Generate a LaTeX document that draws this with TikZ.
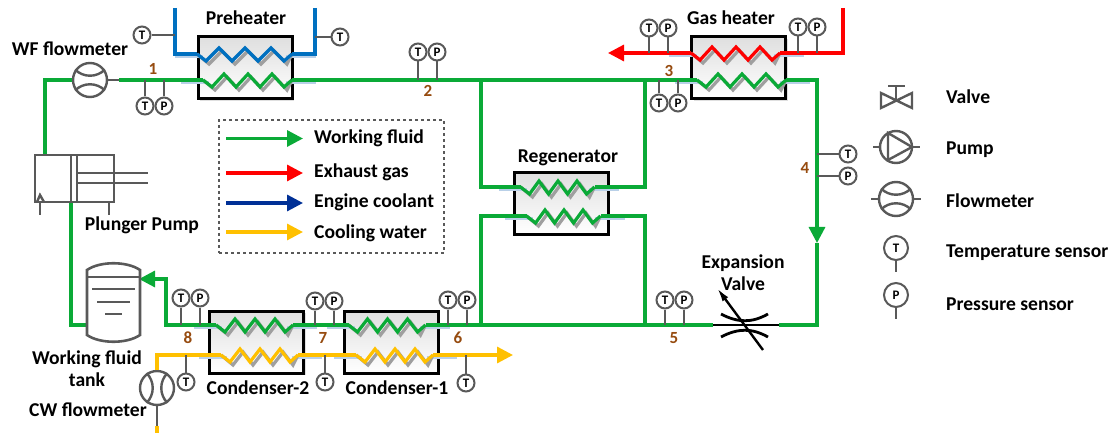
\documentclass[tikz,border=0pt]{standalone}
\usepackage{fontspec}
\setmainfont{Carlito}
\usepackage{xcolor}
\usepackage{tikz}
\usetikzlibrary{arrows.meta, positioning, shadows, calc}

\definecolor{wfgreen}{RGB}{10,170,55}
\definecolor{exred}{RGB}{255,0,0}
\definecolor{ecblue}{RGB}{0,112,192}
\definecolor{ecdark}{RGB}{0,48,150}
\definecolor{cwyellow}{RGB}{255,192,0}
\definecolor{symgray}{RGB}{89,89,89}
\definecolor{stubblue}{RGB}{185,208,232}
\definecolor{numbrown}{RGB}{150,75,15}

\tikzset{
	hxbox/.style={draw=black, line width=3pt, minimum width=94pt, minimum height=62pt, inner sep=0pt, top color=gray!25, bottom color=white, drop shadow={shadow xshift=2pt, shadow yshift=-2pt, opacity=.25}},
	pipe/.style={line width=3.2pt},
	flow/.style={pipe, -{Triangle[length=16pt,width=16pt]}},
	symb/.style={draw=symgray, line width=2.4pt},
	stem/.style={draw=symgray, line width=2pt},
	sensor/.style={circle, draw=symgray, line width=2pt, fill=white, minimum size=17pt, inner sep=0pt, font=\fontsize{13}{13}\selectfont\bfseries},
	bigsensor/.style={sensor, minimum size=24pt},
	meter/.style={circle, draw=symgray, line width=2.4pt, fill=white, minimum size=34pt, inner sep=0pt},
	lbl/.style={font=\fontsize{19.6}{20}\selectfont\bfseries, align=center, inner sep=0pt},
	legtext/.style={lbl, anchor=west},
	num/.style={font=\fontsize{17}{17}\selectfont\bfseries, text=numbrown, inner sep=0pt}
}

% coil inside a heat exchanger: name, colour, x, y, half pitch
\newcommand{\hxcoil}[5]{
	\coordinate (#1l) at ({#3-3*#5-9},#4);
	\coordinate (#1r) at ({#3+3*#5+8},#4);
	\draw[stubblue, pipe] ($(#1l)+(-22,2.5)$) -- ($(#1l)+(6,2.5)$);
	\draw[stubblue, pipe] ($(#1r)+(-6,2.5)$) -- ($(#1r)+(24,2.5)$);
	\foreach \off/\col in {3/gray!75, 0/#2} {
		\draw[\col, pipe, shift={(\off,\off)}] (#1l) -- ({#3-3*#5},#4+7) -- ({#3-2*#5},#4-6) -- ({#3-#5},#4+7) -- (#3,#4-6) -- ({#3+#5},#4+7) -- ({#3+2*#5},#4-6) -- ({#3+3*#5},#4+7) -- (#1r);
	}
}

\begin{document}
\begin{tikzpicture}[x=1pt, y=-1pt]
	\useasboundingbox (0,0) rectangle (1115,435);

	% Define the heat exchangers
	\node[hxbox] (preheater) at (245,68) {};
	\node[hxbox] (gasheater) at (738.5,68) {};
	\node[hxbox] (regen) at (561,203.5) {};
	\node[hxbox] (cond2) at (256.5,342) {};
	\node[hxbox] (cond1) at (391,342) {};

	% Define the coils
	\hxcoil{pretop}{ecblue}{245}{54}{13}
	\hxcoil{prewf}{wfgreen}{248}{80}{12}
	\hxcoil{gastop}{exred}{736}{53}{12}
	\hxcoil{gaswf}{wfgreen}{742}{80}{12}
	\hxcoil{regtop}{wfgreen}{558}{187}{9.5}
	\hxcoil{regbot}{wfgreen}{564}{216}{9.5}
	\hxcoil{ctwo}{wfgreen}{255}{325}{10}
	\hxcoil{ctwocw}{cwyellow}{260}{355}{10}
	\hxcoil{cone}{wfgreen}{387.5}{325}{10}
	\hxcoil{conecw}{cwyellow}{395}{355}{10}

	% Define the pipe corners
	\coordinate (blueA) at (175,8);
	\coordinate (blueB) at (315,8);
	\coordinate (redin) at (843,8);
	\coordinate (redout) at (608,53);
	\coordinate (pumptop) at (45,155);
	\coordinate (pumpbot) at (71,202);
	\coordinate (tankbot) at (87,325);
	\coordinate (tanktip) at (139,279);
	\coordinate (tankpipe) at (166,279);
	\coordinate (wfright) at (119,80);
	\coordinate (gasright) at (817,80);
	\coordinate (arrowtip) at (817,243);
	\coordinate (valveright) at (817,325);
	\coordinate (junA) at (481,80);
	\coordinate (junB) at (645,80);
	\coordinate (junC) at (481,325);
	\coordinate (junD) at (645,325);
	\coordinate (cwtip) at (513,355);
	\coordinate (cwend) at (157,433);
	\coordinate (cwlow) at (157,426);

	% Define the meters
	\node[meter] (wfmeter) at (90,80) {};
	\node[meter] (cwmeter) at (157,388) {};
	\node[lbl] (valvel) at (743,273) {Expansion\\[2pt]Valve};
	\coordinate (valveA) at (713,325);
	\coordinate (valveB) at (779,325);

	% Define the working fluid connections
	\draw[wfgreen, pipe] (wfmeter.west) -| (pumptop);
	\draw[wfgreen, pipe] (wfright) -- (prewfl);
	\draw[wfgreen, pipe] (prewfr) -- (gaswfl);
	\draw[wfgreen, flow] (gaswfr) -- (gasright) -- (arrowtip);
	\draw[wfgreen, pipe] (arrowtip) -- (valveright) -- (valveB);
	\draw[wfgreen, pipe] (junA) |- (regtopl);
	\draw[wfgreen, pipe] (junB) |- (regtopr);
	\draw[wfgreen, pipe] (junC) |- (regbotl);
	\draw[wfgreen, pipe] (junD) |- (regbotr);
	\draw[wfgreen, pipe] (valveA) -- (coner);
	\draw[wfgreen, pipe] (conel) -- (ctwor);
	\draw[wfgreen, flow] (ctwol) -| (tankpipe) -- (tanktip);
	\draw[wfgreen, pipe] (pumpbot) |- (tankbot);

	% Define the other fluids
	\draw[ecblue, pipe] (blueA) |- (pretopl);
	\draw[ecblue, pipe] (blueB) |- (pretopr);
	\draw[exred, pipe] (redin) |- (gastopr);
	\draw[exred, flow] (gastopl) -- (redout);
	\draw[cwyellow, pipe] (cwmeter.north) |- (ctwocwl);
	\draw[cwyellow, pipe] (ctwocwr) -- (conecwl);
	\draw[cwyellow, flow] (conecwr) -- (cwtip);
	\draw[cwyellow, pipe] (cwlow) -- (cwend);

	% Flowmeter details
	\draw[symb] (wfmeter.east) -- (wfright);
	\draw[symb] (wfmeter.145) to[bend right=45] (wfmeter.35);
	\draw[symb] (wfmeter.215) to[bend left=45] (wfmeter.325);
	\draw[symb] (cwmeter.south) -- (cwlow);
	\draw[symb] (cwmeter.125) to[bend left=45] (cwmeter.235);
	\draw[symb] (cwmeter.55) to[bend right=45] (cwmeter.305);

	% Expansion valve
	\draw[black, line width=2.8pt] (valveA) -- (valveB);
	\draw[black, line width=2.8pt] (721,314) .. controls (738,323) and (752,323) .. (768,314);
	\draw[black, line width=2.8pt] (721,337) .. controls (738,328) and (752,328) .. (768,337);
	\coordinate (valvearrow) at (717,288);
	\coordinate (valvetail) at (763,350);
	\draw[black, line width=2.4pt, -{Latex[length=14pt,width=7pt]}] (valvetail) -- (valvearrow);

	% Plunger pump
	\node[symb, minimum width=79pt, minimum height=47pt, inner sep=0pt] (pump) at (74.5,178.5) {};
	\draw[symb] (71,155) -- (71,202);
	\draw[symb] (77,155) -- (77,202);
	\draw[symb] (77,173) -- (148,173);
	\draw[symb] (77,183) -- (148,183);
	\draw[symb] (40,202) -- (40,215);
	\draw[symb] (109,202) -- (109,215);
	\draw[symb] (37,202) -- (40,195) -- (44,202);

	% Working fluid tank
	\draw[symb, line width=2.6pt, fill=white] (87,270) .. controls (100,261) and (127,261) .. (140,270) -- (140,335) .. controls (127,344) and (100,344) .. (87,335) -- cycle;
	\draw[symb, line width=2.6pt] (87,277) -- (140,277);
	\draw[symb, line width=2.6pt] (92,289) -- (135,289);
	\draw[symb, line width=2.6pt] (97,302) -- (130,302);
	\draw[symb, line width=2.6pt] (105,314) -- (122,314);

	% Define the sensors
	\node[sensor] (bt1) at (142,35) {T};
	\node[sensor] (bt2) at (340,37) {T};
	\node[sensor] (t1) at (145,106) {T};
	\node[sensor] (p1) at (164,106) {P};
	\node[sensor] (t2) at (418,52) {T};
	\node[sensor] (p2) at (437,52) {P};
	\node[sensor] (t3) at (659,103) {T};
	\node[sensor] (p3) at (678,103) {P};
	\node[sensor] (gt1) at (649,28) {T};
	\node[sensor] (gp1) at (668,28) {P};
	\node[sensor] (gt2) at (798,27) {T};
	\node[sensor] (gp2) at (817,27) {P};
	\node[sensor] (t4) at (848,154) {T};
	\node[sensor] (p4) at (848,176) {P};
	\node[sensor] (t5) at (665,300) {T};
	\node[sensor] (p5) at (684,300) {P};
	\node[sensor] (t6) at (448,300) {T};
	\node[sensor] (p6) at (467,300) {P};
	\node[sensor] (t7) at (315,301) {T};
	\node[sensor] (p7) at (334,301) {P};
	\node[sensor] (t8) at (181,298) {T};
	\node[sensor] (p8) at (200,298) {P};
	\node[sensor] (ct1) at (186,382) {T};
	\node[sensor] (ct2) at (325,382) {T};
	\node[sensor] (ct3) at (466,383) {T};

	% Define the sensor connections
	\path[stem] (bt1) edge (bt1 -| blueA);
	\path[stem] (bt2) edge (bt2 -| blueB);
	\path[stem] (t1) edge (t1 |- prewfl);
	\path[stem] (p1) edge (p1 |- prewfl);
	\path[stem] (t2) edge (t2 |- prewfl);
	\path[stem] (p2) edge (p2 |- prewfl);
	\path[stem] (t3) edge (t3 |- prewfl);
	\path[stem] (p3) edge (p3 |- prewfl);
	\path[stem] (gt1) edge (gt1 |- gastopl);
	\path[stem] (gp1) edge (gp1 |- gastopl);
	\path[stem] (gt2) edge (gt2 |- gastopl);
	\path[stem] (gp2) edge (gp2 |- gastopl);
	\path[stem] (t4) edge (t4 -| gasright);
	\path[stem] (p4) edge (p4 -| gasright);
	\path[stem] (t5) edge (t5 |- junC);
	\path[stem] (p5) edge (p5 |- junC);
	\path[stem] (t6) edge (t6 |- junC);
	\path[stem] (p6) edge (p6 |- junC);
	\path[stem] (t7) edge (t7 |- junC);
	\path[stem] (p7) edge (p7 |- junC);
	\path[stem] (t8) edge (t8 |- junC);
	\path[stem] (p8) edge (p8 |- junC);
	\path[stem] (ct1) edge (ct1 |- cwtip);
	\path[stem] (ct2) edge (ct2 |- cwtip);
	\path[stem] (ct3) edge (ct3 |- cwtip);

	% State points
	\node[num] (n1) at (153,69) {1};
	\node[num] (n2) at (428,91) {2};
	\node[num] (n3) at (669,71) {3};
	\node[num] (n4) at (805,168) {4};
	\node[num] (n5) at (674,338) {5};
	\node[num] (n6) at (458,338) {6};
	\node[num] (n7) at (323,338) {7};
	\node[num] (n8) at (188,338) {8};

	% Labels
	\node[lbl] (lpre) at (246,18) {Preheater};
	\node[lbl] (lgas) at (731,18) {Gas heater};
	\node[lbl] (lreg) at (568,158) {Regenerator};
	\node[lbl] (lwf) at (70,49) {WF flowmeter};
	\node[lbl] (lpump) at (142,225) {Plunger Pump};
	\node[lbl] (ltank) at (87,369) {Working fluid\\[2pt]tank};
	\node[lbl] (lcw) at (88,410) {CW flowmeter};
	\node[lbl] (lc2) at (258,388) {Condenser-2};
	\node[lbl] (lc1) at (397,388) {Condenser-1};

	% Flow legend
	\node[draw=symgray, dashed, line width=1.4pt, minimum width=225pt, minimum height=133pt, inner sep=0pt] (legend) at (331.5,186.5) {};
	\node[legtext] (lega) at (314,138.5) {Working fluid};
	\node[legtext] (legb) at (314,172) {Exhaust gas};
	\node[legtext] (legc) at (314,202) {Engine coolant};
	\node[legtext] (legd) at (314,233) {Cooling water};
	\coordinate (arra) at (226,138.5);
	\coordinate (arrb) at (226,173);
	\coordinate (arrc) at (226,203);
	\coordinate (arrd) at (226,232);
	\draw[wfgreen, flow] (arra) -- ++(77,0);
	\draw[exred, flow] (arrb) -- ++(77,0);
	\draw[ecdark, flow] (arrc) -- ++(77,0);
	\draw[cwyellow, flow] (arrd) -- ++(77,0);

	% Symbol legend
	\node[legtext] (symv) at (946,97) {Valve};
	\node[legtext] (symp) at (946,150) {Pump};
	\node[legtext] (symf) at (946,201) {Flowmeter};
	\node[legtext] (symt) at (946,253) {Temperature sensor};
	\node[legtext] (syms) at (946,304) {Pressure sensor};

	\draw[symb] (888,86) -- (905,86);
	\draw[symb] (896,86) -- (896,100);
	\draw[symb] (881,93) -- (912,108) -- (912,93) -- (881,108) -- cycle;

	\node[meter, minimum size=32pt] (mpump) at (896,147) {};
	\coordinate (mpumpl) at (873,147);
	\coordinate (mpumpr) at (920,147);
	\draw[symb] (mpump.west) -- (mpumpl);
	\draw[symb] (mpump.east) -- (mpumpr);
	\draw[symb] (888,133) -- (888,160) -- (912,147) -- cycle;

	\node[meter] (mflow) at (896,199) {};
	\coordinate (mflowl) at (871,199);
	\coordinate (mflowr) at (921,199);
	\draw[symb] (mflow.west) -- (mflowl);
	\draw[symb] (mflow.east) -- (mflowr);
	\draw[symb] (mflow.145) to[bend right=45] (mflow.35);
	\draw[symb] (mflow.215) to[bend left=45] (mflow.325);

	\node[bigsensor] (mt) at (896,248) {T};
	\coordinate (mtend) at (896,272);
	\path[stem] (mt) edge (mtend);
	\node[bigsensor] (mp) at (896,295) {P};
	\coordinate (mpend) at (896,319);
	\path[stem] (mp) edge (mpend);
\end{tikzpicture}
\end{document}
